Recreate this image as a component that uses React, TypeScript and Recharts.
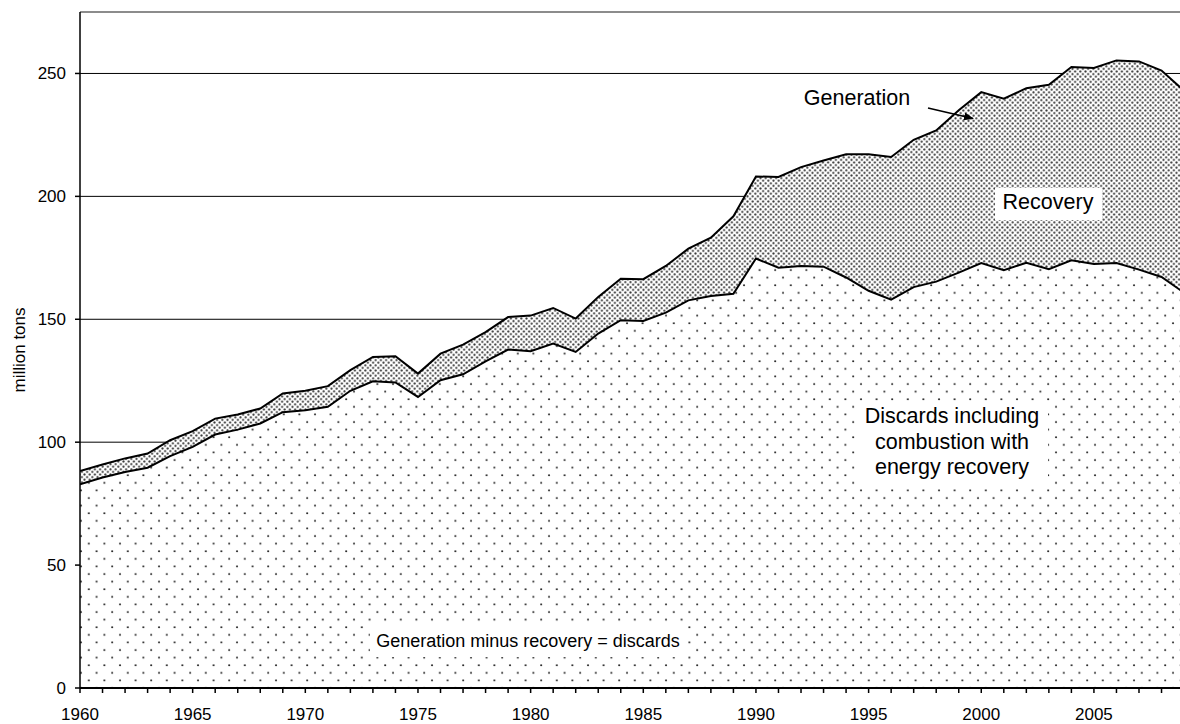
import { AreaChart, Area, XAxis, YAxis, CartesianGrid, ReferenceLine } from 'recharts';

const years = [
  1960, 1961, 1962, 1963, 1964, 1965, 1966, 1967, 1968, 1969,
  1970, 1971, 1972, 1973, 1974, 1975, 1976, 1977, 1978, 1979,
  1980, 1981, 1982, 1983, 1984, 1985, 1986, 1987, 1988, 1989,
  1990, 1991, 1992, 1993, 1994, 1995, 1996, 1997, 1998, 1999,
  2000, 2001, 2002, 2003, 2004, 2005, 2006, 2007, 2008, 2009,
];

// total MSW generation (top line)
const generation = [
  88.3, 90.9, 93.4, 95.4, 100.8, 104.5, 109.6, 111.3, 113.7, 119.8,
  120.9, 122.8, 129.3, 134.7, 135.0, 127.9, 136.0, 139.7, 144.8, 150.9,
  151.5, 154.6, 150.3, 159.1, 166.5, 166.3, 171.7, 178.7, 183.2, 191.9,
  208.1, 207.9, 211.9, 214.6, 217.1, 217.1, 216.0, 223.0, 226.8, 235.0,
  242.4, 239.7, 244.0, 245.4, 252.6, 252.2, 255.3, 254.9, 251.2, 243.0,
];

// generation minus recovery
const discards = [
  82.9, 85.6, 87.9, 89.6, 94.3, 98.1, 103.1, 105.1, 107.6, 112.2,
  113.0, 114.4, 120.9, 124.8, 124.3, 118.4, 125.2, 127.6, 132.9, 137.7,
  137.0, 140.1, 136.7, 144.2, 149.6, 149.3, 152.7, 157.7, 159.5, 160.4,
  174.7, 171.0, 171.7, 171.4, 167.0, 161.6, 158.0, 163.1, 165.3, 169.0,
  172.9, 170.0, 173.0, 170.4, 174.0, 172.5, 172.9, 170.2, 167.2, 160.8,
];

const yTicks = [0, 50, 100, 150, 200, 250];
const xTicks = years.slice(0, 49);

const data = years.map((year, i) => ({
  year,
  generation: generation[i],
  discards: discards[i],
}));

const FONT = '"Liberation Sans", Arial, sans-serif';

export default function App() {
  return (
    <div style={{ position: 'absolute', left: 0, top: 0, width: 1180, height: 724, overflow: 'hidden', background: '#fff' }}>
      <AreaChart
        width={1180}
        height={724}
        data={data}
        margin={{ top: 12, right: 0, left: 0, bottom: 0 }}
      >
        <defs>
          <pattern id="dense" patternUnits="userSpaceOnUse" width={5.2} height={5.2}>
            <rect width={5.2} height={5.2} fill="#fff" />
            <circle cx={1.3} cy={1.3} r={1.05} fill="#3a3a3a" />
            <circle cx={3.9} cy={3.9} r={1.05} fill="#3a3a3a" />
          </pattern>
          <pattern id="sparse" patternUnits="userSpaceOnUse" width={15.6} height={15.2}>
            <rect width={15.6} height={15.2} fill="#fff" />
            <circle cx={3} cy={4} r={1} fill="#1a1a1a" />
            <circle cx={10.8} cy={11.6} r={1} fill="#1a1a1a" />
          </pattern>
        </defs>
        <CartesianGrid vertical={false} stroke="#000" strokeWidth={1} />
        <ReferenceLine y={275} stroke="#8c8c8c" strokeWidth={2} />
        <XAxis
          dataKey="year"
          type="number"
          domain={[1960, 2008.82]}
          allowDataOverflow
          ticks={xTicks}
          interval={0}
          tickFormatter={(v: number) => (v % 5 === 0 ? String(v) : '')}
          height={36}
          tickSize={5}
          tickMargin={15}
          axisLine={{ stroke: '#000', strokeWidth: 2 }}
          tickLine={{ stroke: '#000', strokeWidth: 1.5 }}
          tick={{ fill: '#000', fontSize: 17, fontFamily: FONT }}
        />
        <YAxis
          domain={[0, 275]}
          ticks={yTicks}
          interval={0}
          width={80}
          tickSize={5}
          tickMargin={9}
          axisLine={{ stroke: '#000', strokeWidth: 1.5 }}
          tickLine={{ stroke: '#000', strokeWidth: 1.5 }}
          tick={{ fill: '#000', fontSize: 17, fontFamily: FONT }}
        />
        <Area
          type="linear"
          dataKey="generation"
          stroke="#000"
          strokeWidth={2}
          fill="url(#dense)"
          fillOpacity={1}
          isAnimationActive={false}
          dot={false}
          activeDot={false}
        />
        <Area
          type="linear"
          dataKey="discards"
          stroke="#000"
          strokeWidth={2}
          fill="url(#sparse)"
          fillOpacity={1}
          isAnimationActive={false}
          dot={false}
          activeDot={false}
        />
      </AreaChart>
      <svg
        width={1180}
        height={724}
        style={{ position: 'absolute', left: 0, top: 0, pointerEvents: 'none' }}
        fontFamily={FONT}
      >
        <defs>
          <marker id="arrowHead" markerWidth={10} markerHeight={8} refX={9} refY={4} orient="auto" markerUnits="userSpaceOnUse">
            <path d="M0,0 L10,4 L0,8 Z" fill="#000" />
          </marker>
        </defs>
        <text x={19} y={350} fontSize={17} textAnchor="middle" dominantBaseline="central" transform="rotate(-90 19 350)" fill="#000">
          million tons
        </text>
        <text x={857} y={105} fontSize={21.5} textAnchor="middle" fill="#000">Generation</text>
        <line x1={928} y1={108} x2={973} y2={118.5} stroke="#000" strokeWidth={1.6} markerEnd="url(#arrowHead)" />
        <rect x={995} y={188} width={107} height={32} fill="#fff" />
        <text x={1048} y={209} fontSize={21.5} textAnchor="middle" fill="#000">Recovery</text>
        <rect x={855} y={401} width={193} height={84} fill="#fff" />
        <text x={952} y={423} fontSize={21.5} textAnchor="middle" fill="#000">Discards including</text>
        <text x={952} y={449} fontSize={21.5} textAnchor="middle" fill="#000">combustion with</text>
        <text x={952} y={474} fontSize={21.5} textAnchor="middle" fill="#000">energy recovery</text>
        <rect x={370} y={626} width={316} height={31} fill="#fff" />
        <text x={528} y={647} fontSize={18} textAnchor="middle" fill="#000">Generation minus recovery = discards</text>
      </svg>
    </div>
  );
}
